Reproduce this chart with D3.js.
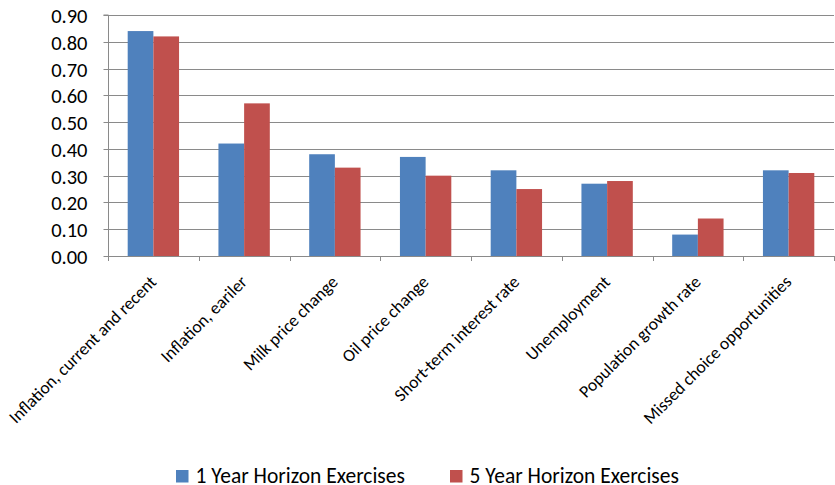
<!DOCTYPE html>
<html>
<head>
<meta charset="utf-8">
<script src="https://cdn.jsdelivr.net/npm/d3@7/dist/d3.min.js"></script>
<style>
  html, body { margin: 0; padding: 0; background: #fff; }
  svg { display: block; }
  text { font-family: Carlito, Calibri, Lato, "Open Sans", sans-serif; fill: #000; }
</style>
</head>
<body>
<svg id="chart" width="835" height="485"></svg>
<script>
const categories = [
  "Inflation, current and recent",
  "Inflation, eariler",
  "Milk price change",
  "Oil price change",
  "Short-term interest rate",
  "Unemployment",
  "Population growth rate",
  "Missed choice opportunities"
];
const seriesNames = ["1 Year Horizon Exercises", "5 Year Horizon Exercises"];
const oneYear  = [0.84, 0.42, 0.38, 0.37, 0.32, 0.27, 0.08, 0.32];
const fiveYear = [0.82, 0.57, 0.33, 0.30, 0.25, 0.28, 0.14, 0.31];
const yTicks = [0, 0.1, 0.2, 0.3, 0.4, 0.5, 0.6, 0.7, 0.8, 0.9];
const colors = ["#4F81BD", "#C0504D"];

const svg = d3.select("#chart");
const pLeft = 108, pRight = 834, pTop = 15, pBottom = 256;
const gridColor = "#8a8a8a";

const y = d3.scaleLinear().domain([0, 0.9]).range([pBottom, pTop]);
const x0 = d3.scaleBand().domain(categories).range([pLeft, pRight])
  .paddingInner(0.434).paddingOuter(0.217);
const x1 = d3.scaleBand().domain(seriesNames).range([0, x0.bandwidth()]);
const color = d3.scaleOrdinal().domain(seriesNames).range(colors);

// gridlines
svg.append("g")
  .selectAll("line").data(yTicks.filter(d => d > 0)).join("line")
  .attr("x1", pLeft).attr("x2", pRight)
  .attr("y1", d => Math.round(y(d)) + 0.5).attr("y2", d => Math.round(y(d)) + 0.5)
  .attr("stroke", gridColor).attr("stroke-width", 1);

// y axis
const yAxis = d3.axisLeft(y).tickValues(yTicks).tickFormat(d3.format(".2f"))
  .tickSize(5).tickPadding(16);
const gy = svg.append("g").attr("transform", `translate(${pLeft + 0.5},0)`).call(yAxis);
gy.selectAll("path, line").attr("stroke", gridColor);
gy.select(".domain").attr("d", `M-5,${pTop}H0V${pBottom}`);
gy.selectAll(".tick").attr("transform", d => `translate(0,${Math.round(y(d)) + 0.5})`);
gy.selectAll("text").style("font-size", "20.5px").attr("dy", "0.36em")
  .style("font-family", "Carlito, Calibri, Lato, sans-serif").attr("fill", "#000");

// bars
const data = categories.map((c, i) => ({ cat: c, vals: [oneYear[i], fiveYear[i]] }));
svg.append("g").selectAll("g").data(data).join("g")
  .attr("transform", d => `translate(${x0(d.cat)},0)`)
  .selectAll("rect").data(d => d.vals.map((v, j) => ({ key: seriesNames[j], v })))
  .join("rect")
  .attr("x", d => x1(d.key))
  .attr("width", x1.bandwidth())
  .attr("y", d => y(d.v))
  .attr("height", d => y(0) - y(d.v))
  .attr("fill", d => color(d.key));

// x axis line and ticks at category boundaries
const step = x0.step();
const boundaries = d3.range(categories.length + 1).map(i => pLeft + i * step);
svg.append("line").attr("x1", pLeft).attr("x2", pRight)
  .attr("y1", pBottom + 0.5).attr("y2", pBottom + 0.5).attr("stroke", gridColor);
svg.append("g").selectAll("line").data(boundaries).join("line")
  .attr("x1", d => Math.round(d) + 0.5).attr("x2", d => Math.round(d) + 0.5)
  .attr("y1", pBottom).attr("y2", pBottom + 5).attr("stroke", gridColor);

// x labels rotated
svg.append("g").selectAll("text").data(categories).join("text")
  .attr("transform", d => `translate(${x0(d) + x0.bandwidth() / 2 + 4},${pBottom + 27}) rotate(-45)`)
  .attr("text-anchor", "end")
  .style("font-size", "17.5px")
  .text(d => d);

// legend
const legendPos = [176, 450];
const lg = svg.append("g").selectAll("g").data(seriesNames).join("g")
  .attr("transform", (d, i) => `translate(${legendPos[i]},470)`);
lg.append("rect").attr("width", 12.5).attr("height", 12.5).attr("fill", d => color(d));
lg.append("text").attr("x", 19.5).attr("y", 12.5).style("font-size", "21.5px").text(d => d);
</script>
</body>
</html>
